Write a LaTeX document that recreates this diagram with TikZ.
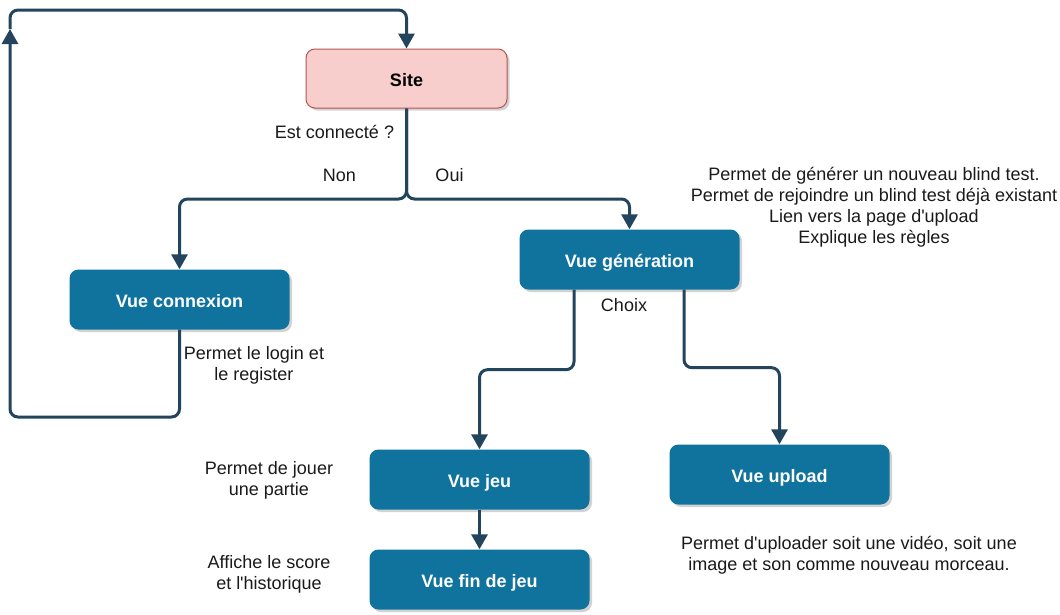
\documentclass[tikz,border=0pt]{standalone}
\usepackage{fontspec}
\setmainfont{Liberation Sans}
\usetikzlibrary{arrows.meta,shadows}
\definecolor{boxblue}{HTML}{10739E}
\definecolor{edgec}{HTML}{23445D}
\definecolor{sitefill}{HTML}{F8CECC}
\definecolor{sitedraw}{HTML}{B85450}
\definecolor{txt}{HTML}{1A1A1A}
\begin{document}
\begin{tikzpicture}[x=1pt,y=-1pt,
  shad/.style={drop shadow={shadow xshift=2.5pt, shadow yshift=-2.5pt, fill=black!35, opacity=0.5}},
  box/.style={rectangle, rounded corners=9pt, minimum width=220pt, minimum height=60pt, text height=16pt, text depth=0pt, fill=boxblue, text=white, font=\fontsize{18}{21}\selectfont\bfseries, shad},
  sitebox/.style={rectangle, rounded corners=9pt, minimum width=201pt, minimum height=59pt, text height=16pt, text depth=0pt, fill=sitefill, draw=sitedraw, line width=1pt, text=black, font=\fontsize{18}{21}\selectfont\bfseries, shad},
  lbl/.style={font=\fontsize{18}{21}\selectfont, text=txt, align=center, inner sep=0pt},
  edge/.style={draw=edgec, line width=3pt, rounded corners=8pt},
  arr/.style={-{Triangle[width=16pt,length=15pt]}}
]
\useasboundingbox (0,0) rectangle (1060,614);
\fill[white] (0,0) rectangle (1060,614);

% nodes
\node[sitebox] (site) at (406.5,78.5) {Site};
\node[box] (connx) at (179.5,299.5) {Vue connexion};
\node[box] (gen) at (629.5,259.5) {Vue génération};
\node[box] (jeu) at (479.5,479.5) {Vue jeu};
\node[box] (upload) at (779.5,474.5) {Vue upload};
\node[box] (fin) at (479.5,579.5) {Vue fin de jeu};

% helper coordinates
\coordinate (fork) at (406.5,199);
\coordinate (loopc) at (10,417);
\coordinate (loopend) at (10,29);
\coordinate (topc) at (10,10);

% connectors
\draw[edge,arr] (site.south) -- (fork) -| (connx.north);
\draw[edge,arr] (site.south) -- (fork) -| (gen.north);
\draw[edge,arr] (connx.south) |- (loopc) -- (loopend);
\draw[edge,arr] (loopend) -- (topc) -| (site.north);
\draw[edge,arr] ([xshift=-55.5pt]gen.south) -- ++(0,80) -| (jeu.north);
\draw[edge,arr] ([xshift=54.5pt]gen.south) -- ++(0,78) -| (upload.north);
\draw[edge,arr] (jeu.south) -- (fin.north);

% labels
\node[lbl] (l1) at (334.5,132) {Est connecté ?};
\node[lbl] (l2) at (339.5,175.5) {Non};
\node[lbl] (l3) at (449.5,175.5) {Oui};
\node[lbl] (l4) at (874,207) {Permet de générer un nouveau blind test.\\Permet de rejoindre un blind test déjà existant\\Lien vers la page d\textquotesingle upload\\Explique les règles};
\node[lbl] (l5) at (254,365.5) {Permet le login et\\le register};
\node[lbl] (l6) at (624,305.5) {Choix};
\node[lbl] (l7) at (269,480) {Permet de jouer\\une partie};
\node[lbl] (l8) at (269,574.5) {Affiche le score\\et l\textquotesingle historique};
\node[lbl] (l9) at (849,555) {Permet d\textquotesingle uploader soit une vidéo, soit une\\image et son comme nouveau morceau.};
\end{tikzpicture}
\end{document}
